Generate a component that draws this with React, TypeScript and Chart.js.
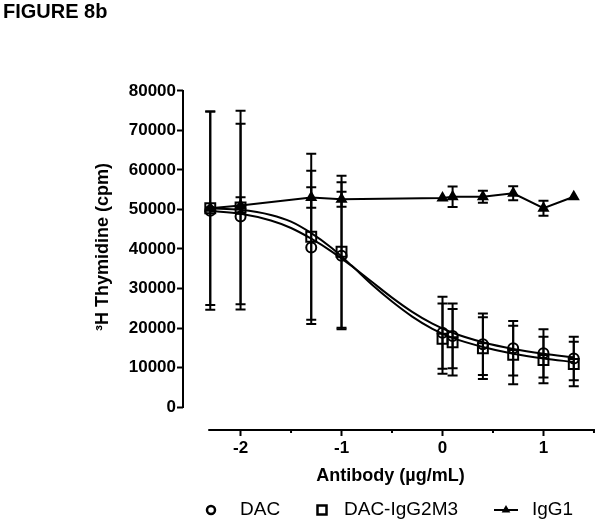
import React, { useEffect, useRef } from 'react';
import { Chart, registerables } from 'chart.js';

Chart.register(...registerables);

// ---- data (log10 antibody concentration, µg/mL) ----
const DOSE_LOG = [-2.3, -2.0, -1.3, -1.0, 0.0, 0.1, 0.4, 0.7, 1.0, 1.3];

const DAC_MEAN = [49700, 48200, 40400, 38300, 18800, 18000, 15900, 14900, 13600, 12300];
const DAC_SD = [25100, 23500, 19400, 18600, 9100, 8200, 7800, 6900, 6100, 5500];

const G2M3_MEAN = [50300, 50500, 43100, 39300, 17300, 16400, 14900, 13200, 11900, 10900];
const G2M3_SD = [24500, 24500, 21000, 19200, 8900, 8400, 7800, 7400, 5900, 5600];

const IGG1_MEAN = [50300, 51000, 53000, 52600, 52900, 53200, 53200, 54100, 50300, 53200];
const IGG1_SD = [0, 2100, 2600, 1900, 0, 2600, 1500, 1800, 1900, 0];

// fitted curves
const FIT_X = [-2.3, -2.0, -1.7, -1.5, -1.3, -1.1, -0.9, -0.7, -0.5, -0.3, -0.1, 0.1, 0.4, 0.7, 1.0, 1.3];
const DAC_FIT = [49600, 48900, 47200, 45300, 42600, 39400, 35700, 31700, 27700, 24100, 21100, 18800, 16400, 14700, 13500, 12600];
const G2M3_FIT = [50300, 49900, 48600, 46900, 44000, 40300, 35800, 31000, 26700, 22900, 19800, 17500, 15200, 13500, 12300, 11400];

const Y_TICKS = [0, 10000, 20000, 30000, 40000, 50000, 60000, 70000, 80000];
const X_MAJOR_TICKS = [-2, -1, 0, 1];
const X_MINOR_TICKS = [-1.5, -0.5, 0.5, 1.5];
const X_AXIS_RANGE = [-2.31, 1.5];

const LEGEND_LABELS = ['DAC', 'DAC-IgG2M3', 'IgG1'];
const TITLE = 'FIGURE 8b';
const Y_TITLE = '\u00B3H Thymidine (cpm)';
const X_TITLE = 'Antibody (\u00B5g/mL)';

const FONT = '"Liberation Sans", Arial, Helvetica, sans-serif';

const toPts = (xs: number[], ys: number[]) => xs.map((x, i) => ({ x, y: ys[i] }));

const errorBarsPlugin = {
  id: 'errorBars',
  afterDatasetsDraw(chart: any) {
    const { ctx } = chart;
    const x = chart.scales.x;
    const y = chart.scales.y;
    const groups: [number[], number[]][] = [
      [DAC_MEAN, DAC_SD],
      [G2M3_MEAN, G2M3_SD],
      [IGG1_MEAN, IGG1_SD],
    ];
    ctx.save();
    ctx.strokeStyle = '#000';
    ctx.lineWidth = 2;
    groups.forEach(([m, s]) => {
      m.forEach((v, i) => {
        if (!s[i]) return;
        const px = x.getPixelForValue(DOSE_LOG[i]);
        const top = y.getPixelForValue(v + s[i]);
        const bot = y.getPixelForValue(v - s[i]);
        ctx.beginPath();
        ctx.moveTo(px, top);
        ctx.lineTo(px, bot);
        ctx.moveTo(px - 5, top);
        ctx.lineTo(px + 5, top);
        ctx.moveTo(px - 5, bot);
        ctx.lineTo(px + 5, bot);
        ctx.stroke();
      });
    });
    ctx.restore();
  },
};

const axesPlugin = {
  id: 'prismAxes',
  afterDraw(chart: any) {
    const { ctx, chartArea } = chart;
    const x = chart.scales.x;
    const y = chart.scales.y;
    ctx.save();
    ctx.strokeStyle = '#000';
    ctx.lineWidth = 2;
    ctx.lineCap = 'square';
    // y axis line from 0 to top tick
    ctx.beginPath();
    ctx.moveTo(chartArea.left, y.getPixelForValue(Y_TICKS[0]));
    ctx.lineTo(chartArea.left, y.getPixelForValue(Y_TICKS[Y_TICKS.length - 1]));
    ctx.stroke();
    // x axis line
    ctx.beginPath();
    ctx.moveTo(x.getPixelForValue(X_AXIS_RANGE[0]), chartArea.bottom);
    ctx.lineTo(x.getPixelForValue(X_AXIS_RANGE[1]), chartArea.bottom);
    ctx.stroke();
    // minor ticks
    ctx.lineCap = 'butt';
    X_MINOR_TICKS.forEach((t) => {
      const px = x.getPixelForValue(t);
      ctx.beginPath();
      ctx.moveTo(px, chartArea.bottom);
      ctx.lineTo(px, chartArea.bottom + 3);
      ctx.stroke();
    });
    ctx.restore();
  },
};

const legendPlugin = {
  id: 'customLegend',
  afterDraw(chart: any) {
    const { ctx } = chart;
    const cy = 510;
    ctx.save();
    ctx.strokeStyle = '#000';
    ctx.fillStyle = '#000';
    ctx.lineWidth = 2.5;
    // circle
    ctx.beginPath();
    ctx.arc(211, cy, 4, 0, Math.PI * 2);
    ctx.stroke();
    // square
    ctx.strokeRect(317.5, cy - 4.5, 9, 9);
    // line + triangle
    ctx.lineWidth = 2;
    ctx.beginPath();
    ctx.moveTo(494, cy);
    ctx.lineTo(518, cy);
    ctx.stroke();
    ctx.beginPath();
    const r = 5;
    ctx.moveTo(506, cy - r);
    ctx.lineTo(506 + r * 0.866, cy + r * 0.5);
    ctx.lineTo(506 - r * 0.866, cy + r * 0.5);
    ctx.closePath();
    ctx.fill();
    ctx.font = '19px ' + FONT;
    ctx.textBaseline = 'middle';
    ctx.textAlign = 'left';
    ctx.fillText(LEGEND_LABELS[0], 240, cy);
    ctx.fillText(LEGEND_LABELS[1], 344, cy);
    ctx.fillText(LEGEND_LABELS[2], 532, cy);
    ctx.restore();
  },
};

export default function App() {
  const canvasRef = useRef<HTMLCanvasElement | null>(null);

  useEffect(() => {
    const canvas = canvasRef.current;
    if (!canvas) return;
    const chart = new Chart(canvas, {
      type: 'scatter',
      data: {
        datasets: [
          {
            label: 'DAC fit',
            data: toPts(FIT_X, DAC_FIT),
            showLine: true,
            borderColor: '#000',
            borderWidth: 2,
            pointRadius: 0,
            cubicInterpolationMode: 'monotone',
          },
          {
            label: 'DAC-IgG2M3 fit',
            data: toPts(FIT_X, G2M3_FIT),
            showLine: true,
            borderColor: '#000',
            borderWidth: 2,
            pointRadius: 0,
            cubicInterpolationMode: 'monotone',
          },
          {
            label: LEGEND_LABELS[0],
            data: toPts(DOSE_LOG, DAC_MEAN),
            showLine: false,
            pointStyle: 'circle',
            pointRadius: 5,
            borderColor: '#000',
            borderWidth: 2,
            backgroundColor: 'rgba(0,0,0,0)',
          },
          {
            label: LEGEND_LABELS[1],
            data: toPts(DOSE_LOG, G2M3_MEAN),
            showLine: false,
            pointStyle: 'rect',
            pointRadius: 7,
            borderColor: '#000',
            borderWidth: 2,
            backgroundColor: 'rgba(0,0,0,0)',
          },
          {
            label: LEGEND_LABELS[2],
            data: toPts(DOSE_LOG, IGG1_MEAN),
            showLine: true,
            tension: 0,
            pointStyle: 'triangle',
            pointRadius: 5,
            borderColor: '#000',
            borderWidth: 2,
            backgroundColor: '#000',
            pointBackgroundColor: '#000',
          },
        ],
      },
      options: {
        responsive: false,
        animation: false,
        devicePixelRatio: 1,
        layout: { autoPadding: false, padding: { left: 0, right: 4, top: 64, bottom: 35 } },
        plugins: {
          legend: { display: false },
          tooltip: { enabled: false },
          title: { display: false },
        },
        scales: {
          x: {
            type: 'linear',
            min: -2.57,
            max: 1.54,
            border: { display: false },
            grid: {
              display: true,
              drawOnChartArea: false,
              drawTicks: true,
              tickLength: 6,
              tickWidth: 2,
              tickColor: '#000',
            },
            afterBuildTicks: (s: any) => {
              s.ticks = X_MAJOR_TICKS.map((v) => ({ value: v }));
            },
            afterFit: (s: any) => {
              s.height = 60;
              s.paddingLeft = 0;
              s.paddingRight = 0;
            },
            ticks: {
              color: '#000',
              padding: 2,
              font: { family: FONT, size: 17, weight: 'bold' },
              callback: (v: any) => String(v),
            },
            title: {
              display: true,
              text: X_TITLE,
              color: '#000',
              font: { family: FONT, size: 18, weight: 'bold' },
              padding: { top: 0, bottom: 3 },
            },
          },
          y: {
            type: 'linear',
            min: -5800,
            max: 86800,
            border: { display: false },
            grid: {
              display: true,
              drawOnChartArea: false,
              drawTicks: true,
              tickLength: 6,
              tickWidth: 2,
              tickColor: '#000',
            },
            afterBuildTicks: (s: any) => {
              s.ticks = Y_TICKS.map((v) => ({ value: v }));
            },
            afterFit: (s: any) => {
              s.width = 183;
              s.paddingTop = 0;
              s.paddingBottom = 0;
            },
            ticks: {
              color: '#000',
              padding: 1,
              font: { family: FONT, size: 17, weight: 'bold' },
              callback: (v: any) => String(v),
            },
            title: {
              display: true,
              text: Y_TITLE,
              color: '#000',
              font: { family: FONT, size: 18, weight: 'bold' },
              padding: { top: 92, bottom: 0 },
            },
          },
        },
      } as any,
      plugins: [errorBarsPlugin, axesPlugin, legendPlugin],
    });
    return () => chart.destroy();
  }, []);

  return (
    <div style={{ position: 'absolute', left: 0, top: 0, width: 602, height: 525, background: '#fff' }}>
      <div
        style={{
          position: 'absolute',
          left: 3,
          top: 0,
          font: 'bold 20px ' + FONT,
          color: '#000',
          whiteSpace: 'nowrap',
        }}
      >
        {TITLE}
      </div>
      <canvas ref={canvasRef} width={602} height={525} style={{ display: 'block', width: 602, height: 525 }} />
    </div>
  );
}
